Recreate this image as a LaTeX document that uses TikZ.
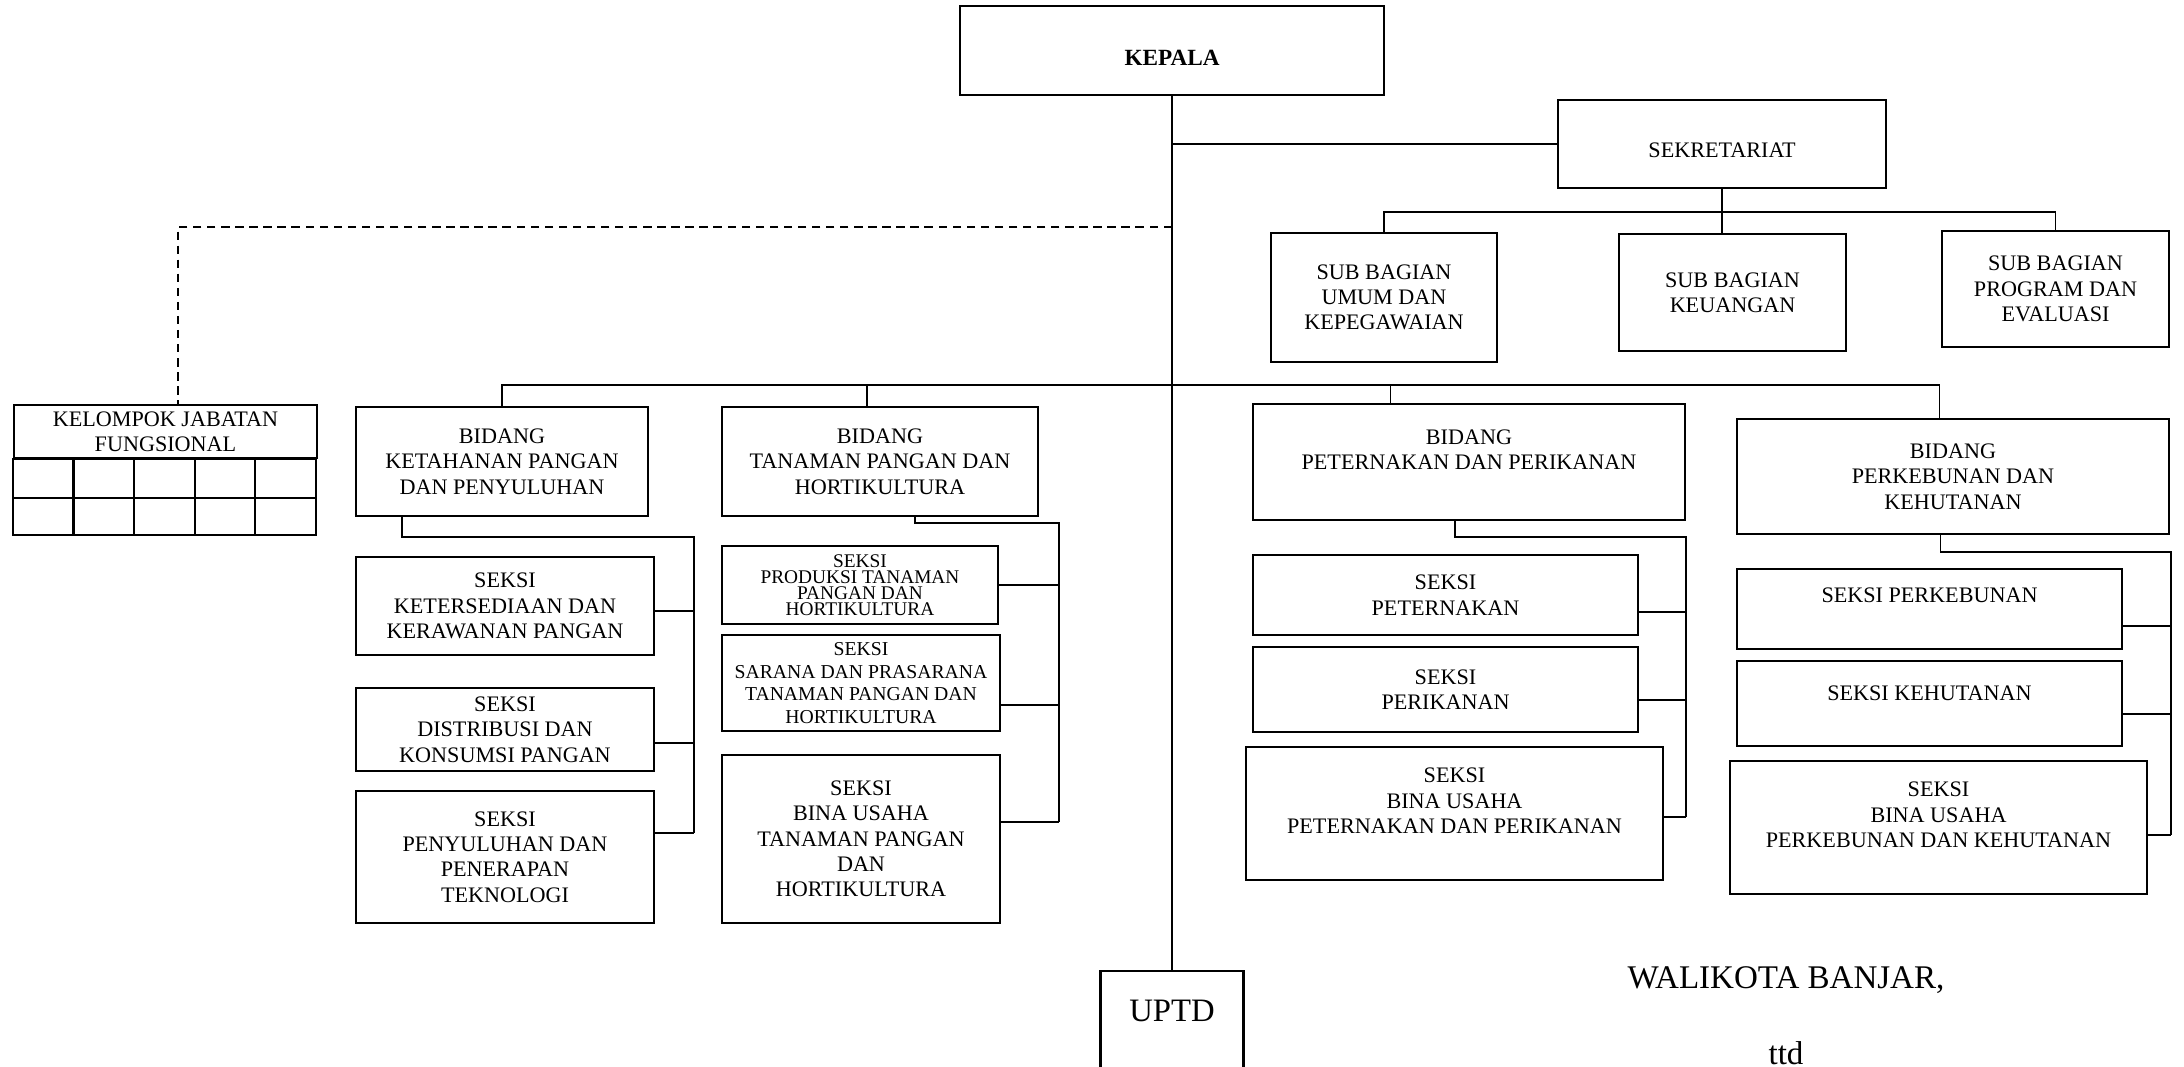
\documentclass[tikz,border=0pt]{standalone}
\usepackage{fontspec}
\setmainfont{Liberation Serif}

\tikzset{
    unitbox/.style={draw, line width=0.6pt, align=center, inner sep=1pt,
        font=\fontsize{6.3}{7.2}\selectfont},
    smalltext/.style={font=\fontsize{5.5}{4.6}\selectfont},
    conn/.style={line width=0.5pt},
    sign/.style={inner sep=0pt, font=\fontsize{9.4}{11}\selectfont},
}

\begin{document}
\begin{tikzpicture}[x=0.01cm, y=-0.01cm]
    \useasboundingbox (0,0) rectangle (2184,1066);
    % top
    \node[unitbox, minimum width=4.23cm, minimum height=0.89cm, font=\fontsize{6.6}{7.2}\selectfont\bfseries, text height=8.4pt] at (1172,50.5) (kepala) {KEPALA};
    \node[unitbox, minimum width=3.28cm, minimum height=0.88cm, text height=7.6pt] at (1722,144) (sekre) {SEKRETARIAT};
    \node[unitbox, minimum width=2.26cm, minimum height=1.29cm] at (1384,297.5) (umum) {SUB BAGIAN\\UMUM DAN\\KEPEGAWAIAN};
    \node[unitbox, minimum width=2.27cm, minimum height=1.17cm] at (1732.5,292.5) (keu) {SUB BAGIAN\\KEUANGAN};
    \node[unitbox, minimum width=2.27cm, minimum height=1.16cm] at (2055.5,289) (prog) {SUB BAGIAN\\PROGRAM DAN\\EVALUASI};
    \node[unitbox, minimum width=3.03cm, minimum height=0.53cm] at (165.5,431.5) (kelompok) {KELOMPOK JABATAN\\FUNGSIONAL};
    % bidang
    \node[unitbox, minimum width=2.92cm, minimum height=1.09cm] at (502,461.5) (ketahanan) {BIDANG\\KETAHANAN PANGAN\\DAN PENYULUHAN};
    \node[unitbox, minimum width=3.16cm, minimum height=1.09cm] at (880,461.5) (tanaman) {BIDANG\\TANAMAN PANGAN DAN\\HORTIKULTURA};
    \node[unitbox, minimum width=4.32cm, minimum height=1.16cm] at (1469,462) (peternakan) {BIDANG\\PETERNAKAN DAN PERIKANAN\\ ~};
    \node[unitbox, minimum width=4.32cm, minimum height=1.15cm] at (1953,476.5) (perkebunan) {BIDANG\\PERKEBUNAN DAN\\KEHUTANAN};
    % seksi
    \node[unitbox, minimum width=2.98cm, minimum height=0.98cm] at (505,606) (sk1) {SEKSI\\KETERSEDIAAN DAN\\KERAWANAN PANGAN};
    \node[unitbox, minimum width=2.98cm, minimum height=0.83cm] at (505,729.5) (sk2) {SEKSI\\DISTRIBUSI DAN\\KONSUMSI PANGAN};
    \node[unitbox, minimum width=2.98cm, minimum height=1.32cm] at (505,857) (sk3) {SEKSI\\PENYULUHAN DAN\\PENERAPAN\\TEKNOLOGI};
    \node[unitbox, smalltext, minimum width=2.76cm, minimum height=0.78cm] at (860,585) (sp1) {SEKSI\\PRODUKSI TANAMAN\\PANGAN DAN\\HORTIKULTURA};
    \node[unitbox, font=\fontsize{5.6}{6.4}\selectfont, minimum width=2.78cm, minimum height=0.96cm] at (861,683) (sp2) {SEKSI\\SARANA DAN PRASARANA\\TANAMAN PANGAN DAN\\HORTIKULTURA};
    \node[unitbox, minimum width=2.78cm, minimum height=1.68cm] at (861,839) (sp3) {SEKSI\\BINA USAHA\\TANAMAN PANGAN\\DAN\\HORTIKULTURA};
    \node[unitbox, minimum width=3.85cm, minimum height=0.80cm] at (1445.5,595) (st1) {SEKSI\\PETERNAKAN};
    \node[unitbox, minimum width=3.85cm, minimum height=0.85cm] at (1445.5,689.5) (st2) {SEKSI\\PERIKANAN};
    \node[unitbox, minimum width=4.17cm, minimum height=1.33cm] at (1454.5,813.5) (st3) {SEKSI\\BINA USAHA\\PETERNAKAN DAN PERIKANAN\\ ~};
    \node[unitbox, minimum width=3.85cm, minimum height=0.80cm, text height=4.2pt, text depth=8pt] at (1929.5,609) (sb1) {SEKSI PERKEBUNAN};
    \node[unitbox, minimum width=3.85cm, minimum height=0.85cm, text height=4.2pt, text depth=6pt] at (1929.5,703.5) (sb2) {SEKSI KEHUTANAN};
    \node[unitbox, minimum width=4.17cm, minimum height=1.33cm] at (1938.5,827.5) (sb3) {SEKSI\\BINA USAHA\\PERKEBUNAN DAN KEHUTANAN\\ ~};
    % bottom
    \node[unitbox, minimum width=1.43cm, minimum height=1.10cm, font=\fontsize{9.3}{11}\selectfont, text height=6.1pt, text depth=8.5pt] at (1172,1026) (uptd) {UPTD};
    \node[sign] at (1786,980) (walikota) {WALIKOTA BANJAR,};
    \node[sign] at (1786,1053) (ttd) {ttd};

    % grid under kelompok jabatan
    \draw[line width=0.6pt] (kelompok.south west) rectangle ++(303,76);
    \draw[line width=0.6pt] (kelompok.south west) ++(0,39) -- ++(303,0);
    \foreach \i in {1,...,4}
        \draw[line width=0.6pt] (kelompok.south west) ++(\i*60.6,0) -- ++(0,76);

    \coordinate (sbus) at (1723,212);
    \coordinate (bbus) at (1172,385);
    \coordinate (dj) at (1172,227);
    \coordinate (c1) at (694,537);
    \coordinate (c2) at (1059,523);
    \coordinate (c3) at (1686,537);
    \coordinate (c4) at (2171,552);

    \draw[conn]
    (kepala.south) -- (uptd.north)
    (sekre.west) -- (sekre.west -| kepala.south)
    (sekre.south) -- (sekre.south |- keu.north)
    (umum.north) |- (sbus) -| (prog.north)
    (ketahanan.north) |- (bbus) -| (perkebunan.103)
    (tanaman.103) -- (tanaman.103 |- bbus)
    (peternakan.143) -- (peternakan.143 |- bbus);
    \draw[conn, dash pattern=on 2.4pt off 1.6pt] (dj) -| (kelompok.66);

    \draw[conn]
    (ketahanan.-151) |- (c1) -- (c1 |- sk3.9)
    (sk1.-2) -- (sk1.-2 -| c1)
    (sk2.-5) -- (sk2.-5 -| c1)
    (sk3.9) -- (sk3.9 -| c1)
    (tanaman.-58) |- (c2) -- (c2 |- sp3.7)
    (sp1.east) -- (sp1.east -| c2)
    (sp2.-9) -- (sp2.-9 -| c2)
    (sp3.7) -- (sp3.7 -| c2)
    (peternakan.-103) |- (c3) -- (c3 |- st3.-1)
    (st1.-5) -- (st1.-5 -| c3)
    (st2.-3) -- (st2.-3 -| c3)
    (st3.-1) -- (st3.-1 -| c3)
    (perkebunan.-102) |- (c4) -- (c4 |- sb3.-2)
    (sb1.-5) -- (sb1.-5 -| c4)
    (sb2.-3) -- (sb2.-3 -| c4)
    (sb3.-2) -- (sb3.-2 -| c4);
\end{tikzpicture}
\end{document}
